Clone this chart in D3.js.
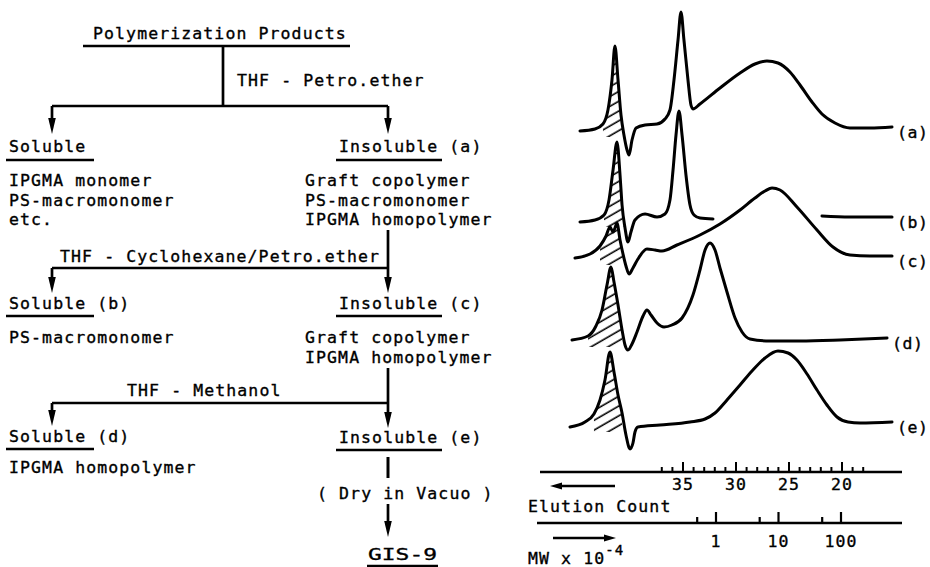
<!DOCTYPE html>
<html>
<head>
<meta charset="utf-8">
<script src="https://cdn.jsdelivr.net/npm/d3@7"></script>
<style>
  body { margin: 0; background: #fff; }
  text { font-family: "DejaVu Sans Mono", "Liberation Mono", monospace; font-size: 16.5px; fill: #000; stroke: #000; stroke-width: 0.35px; }
</style>
</head>
<body>
<svg id="fig" width="930" height="567"></svg>
<script>
// ---- GPC data: elution count vs. detector response ----
const traceNames = ["(a)", "(b)", "(c)", "(d)", "(e)"];

const countA  = [44.72, 43.30, 42.55, 42.08, 41.70, 41.42, 41.13, 40.85, 40.57, 40.28, 40.09, 39.81, 39.43, 38.58, 37.45, 36.70, 36.23, 35.85, 35.47, 35.19, 34.91, 34.53, 34.25, 34.06, 33.40, 31.51, 29.62, 28.21, 27.08, 26.04, 24.91, 23.96, 22.83, 21.89, 20.66, 19.25, 17.36, 15.28];
const signalA = [-1, 1, 6, 20, 50, 84, 50, 15, -5, -20, -25, -10, 2, 5, 6, 11, 20, 50, 90, 118, 90, 50, 25, 21, 26, 42, 57, 66, 69, 67, 58, 45, 28, 16, 7, 2, 2, 3];

const countB  = [44.72, 43.30, 42.45, 41.98, 41.60, 41.23, 40.94, 40.75, 40.47, 40.19, 39.91, 39.53, 38.58, 37.45, 36.70, 36.23, 35.94, 35.66, 35.38, 35.09, 34.72, 34.34, 33.96, 33.40, 32.17, 27.00, 21.89, 19.25, 15.28];
const signalB = [-2, 0, 5, 20, 50, 78, 45, 15, -8, -22, -12, 0, 6, 3, 6, 20, 50, 85, 109, 85, 45, 15, 5, 2, 1, null, 4, 3, 3];

const countC  = [45.19, 43.77, 42.83, 42.26, 41.89, 41.60, 41.42, 41.23, 40.94, 40.66, 40.38, 40.09, 39.72, 39.25, 38.40, 37.64, 36.98, 35.57, 33.40, 31.51, 29.62, 28.21, 27.26, 26.60, 25.85, 24.25, 22.36, 20.85, 19.25, 17.36, 15.28];
const signalC = [0, 4, 12, 22, 31, 26, 30, 35, 18, 4, -8, -16, -10, -1, 9, 8, 7, 13, 23, 34, 48, 60, 67, 70, 68, 51, 28, 11, 3, 2, 2];

const countD  = [45.47, 43.96, 43.21, 42.64, 42.17, 41.79, 41.51, 41.13, 40.75, 40.47, 40.19, 39.81, 39.34, 38.77, 38.40, 38.02, 37.45, 36.79, 36.04, 35.09, 34.06, 33.40, 32.92, 32.45, 31.98, 31.51, 30.85, 30.09, 29.43, 28.68, 26.79, 23.96, 20.19, 15.75];
const signalD = [0, 4, 14, 30, 55, 73, 58, 35, 10, -5, -10, -4, 8, 24, 30, 25, 17, 13, 15, 22, 45, 70, 90, 97, 90, 72, 48, 22, 8, 1, -1, -1, 0, 2];

const countE  = [45.66, 44.25, 43.40, 42.83, 42.36, 41.89, 41.51, 41.13, 40.75, 40.38, 40.00, 39.72, 39.53, 39.25, 37.17, 34.34, 32.92, 31.98, 30.85, 29.62, 28.49, 27.26, 26.04, 25.09, 24.25, 23.30, 22.36, 21.42, 20.47, 19.43, 18.30, 15.28];
const signalE = [-2, 3, 11, 25, 45, 73, 53, 30, 12, -10, -24, -18, -7, -2, 0, 3, 6, 12, 25, 40, 54, 67, 74, 72, 65, 51, 35, 20, 8, 3, 2, 3];

// Hatched (solvent / low-MW) region of each trace, in elution counts
const hatchRanges = [[42.83, 40.47], [42.83, 40.47], [43.30, 40.60], [43.96, 40.55], [43.40, 40.55]];

// Axis ticks
const elutionTicks  = d3.range(37, 17, -1);
const elutionLabels = [35, 30, 25, 20];
const mwMajor = [1, 10, 100];
const mwMinor = [0.5, 5, 50];

const allCounts  = [countA, countB, countC, countD, countE];
const allSignals = [signalA, signalB, signalC, signalD, signalE];

// ---- drawing ----
const svg = d3.select("#fig");
const defs = svg.append("defs");
defs.append("pattern")
  .attr("id", "hatch")
  .attr("patternUnits", "userSpaceOnUse")
  .attr("width", 10).attr("height", 8.5)
  .attr("patternTransform", "rotate(-30)")
  .append("line")
  .attr("x1", 0).attr("x2", 10).attr("y1", 4).attr("y2", 4)
  .attr("stroke", "#000").attr("stroke-width", 1.6);

const ink = "#000";
const LW = 2.7;
const LS = 1.1;   // letter spacing of the typed labels
const ROW = 19.5; // line pitch of the listed components

// ---------- flow scheme (left) ----------
const flow = svg.append("g");
function label(x, y, s, opts = {}) {
  return flow.append("text").attr("x", x).attr("y", y)
    .attr("letter-spacing", opts.ls != null ? opts.ls : LS)
    .attr("text-anchor", opts.anchor || "start")
    .text(s);
}
function seg(x1, y1, x2, y2, w = LW) {
  flow.append("line").attr("x1", x1).attr("y1", y1).attr("x2", x2).attr("y2", y2)
    .attr("stroke", ink).attr("stroke-width", w).attr("stroke-linecap", "butt");
}
function arrowDown(x, y1, tip) {
  seg(x, y1, x, tip - 10);
  flow.append("path")
    .attr("d", `M${x - 3.8},${tip - 16} L${x + 3.8},${tip - 16} L${x},${tip} Z`)
    .attr("fill", ink);
}

label(93, 39, "Polymerization Products");
seg(83, 46, 350, 46, 2.5);
seg(223, 46, 223, 106);
label(237, 86, "THF - Petro.ether");
seg(52, 106, 388, 106);
arrowDown(52, 106, 134);
arrowDown(388, 106, 134);

label(9, 152, "Soluble");
seg(6, 160, 94, 160, 2.5);
label(339, 152, "Insoluble (a)");
seg(336, 160, 442, 160, 2.5);
["IPGMA monomer", "PS-macromonomer", "etc."].forEach((s, i) => label(9, 186 + i * ROW, s));
["Graft copolymer", "PS-macromonomer", "IPGMA homopolymer"].forEach((s, i) => label(305, 186 + i * ROW, s));

seg(388, 230, 388, 268);
arrowDown(388, 268, 293);
label(60, 262, "THF - Cyclohexane/Petro.ether");
seg(52, 268, 388, 268);
arrowDown(52, 268, 293);

label(9, 309, "Soluble (b)");
seg(6, 316, 94, 316, 2.5);
label(339, 309, "Insoluble (c)");
seg(336, 316, 442, 316, 2.5);
label(9, 343, "PS-macromonomer");
["Graft copolymer", "IPGMA homopolymer"].forEach((s, i) => label(305, 343 + i * ROW, s));

arrowDown(388, 368, 428);
label(127, 396, "THF - Methanol");
seg(52, 403, 388, 403);
arrowDown(52, 403, 426);

label(9, 442, "Soluble (d)");
seg(6, 449, 94, 449, 2.5);
label(339, 443, "Insoluble (e)");
seg(336, 450, 442, 450, 2.5);
label(9, 473, "IPGMA homopolymer");

seg(388, 457, 388, 478, 3);
label(317, 499, "( Dry in Vacuo )");
arrowDown(388, 504, 537);
flow.append("text").attr("x", 368).attr("y", 560)
  .attr("font-size", 26).attr("textLength", 69).attr("lengthAdjust", "spacingAndGlyphs")
  .text("GIS-9");
seg(367, 566, 438, 566, 2.5);

// ---------- chromatograms (right) ----------
const x = d3.scaleLinear().domain([35, 20]).range([683, 842]);
const y = d3.scaleLinear().domain([0, 100]).range([0, -100]);
const baselines = [130, 220, 258, 340, 425];

const line = d3.line()
  .defined(d => d.s != null)
  .x(d => x(d.c)).y(d => y(d.s))
  .curve(d3.curveMonotoneX);

const hatchArea = d3.area()
  .x(d => x(d.c))
  .y0(y(-7))
  .y1(d => y(Math.max(d.s, -7)))
  .curve(d3.curveMonotoneX);

const chart = svg.append("g");
traceNames.forEach((name, i) => {
  const pts = allCounts[i].map((c, j) => ({ c, s: allSignals[i][j] }));
  const g = chart.append("g").attr("transform", `translate(0,${baselines[i]})`);
  const [h0, h1] = hatchRanges[i];
  const hpts = pts.filter(p => p.s != null && p.c <= h0 && p.c >= h1);
  g.append("path").attr("d", hatchArea(hpts)).attr("fill", "url(#hatch)");
  g.append("path").attr("d", line(pts))
    .attr("fill", "none").attr("stroke", ink).attr("stroke-width", 3)
    .attr("stroke-linejoin", "round").attr("stroke-linecap", "round");
  const last = pts[pts.length - 1];
  g.append("text").attr("x", x(last.c) + 5).attr("y", y(last.s) + 11)
    .attr("letter-spacing", 0.6).text(name);
});

// Elution count axis
const axY = 472;
chart.append("line").attr("x1", 540).attr("x2", 902).attr("y1", axY).attr("y2", axY)
  .attr("stroke", ink).attr("stroke-width", 2.5);
chart.selectAll(".et").data(elutionTicks).enter().append("line")
  .attr("x1", d => x(d)).attr("x2", d => x(d))
  .attr("y1", axY).attr("y2", d => axY - (elutionLabels.includes(d) ? 10 : 5))
  .attr("stroke", ink).attr("stroke-width", 2);
chart.selectAll(".el").data(elutionLabels).enter().append("text")
  .attr("x", d => x(d)).attr("y", 490).attr("text-anchor", "middle").attr("letter-spacing", LS)
  .text(d => d);
chart.append("line").attr("x1", 558).attr("x2", 615).attr("y1", 486).attr("y2", 486)
  .attr("stroke", ink).attr("stroke-width", 2.4);
chart.append("path").attr("d", "M550,486 L562,482.5 L562,489.5 Z").attr("fill", ink);
chart.append("text").attr("x", 528).attr("y", 512).attr("letter-spacing", LS).text("Elution Count");

// Molecular weight axis
const mw = d3.scaleLog().domain([1, 100]).range([716, 841]);
const mwY = 523;
chart.append("line").attr("x1", 537).attr("x2", 902).attr("y1", mwY).attr("y2", mwY)
  .attr("stroke", ink).attr("stroke-width", 2.5);
chart.selectAll(".mt").data(mwMajor.concat(mwMinor)).enter().append("line")
  .attr("x1", d => mw(d)).attr("x2", d => mw(d))
  .attr("y1", mwY).attr("y2", d => mwY - (mwMajor.includes(d) ? 11 : 6))
  .attr("stroke", ink).attr("stroke-width", 2.2);
chart.selectAll(".ml").data(mwMajor).enter().append("text")
  .attr("x", d => mw(d)).attr("y", 547).attr("text-anchor", "middle").attr("letter-spacing", LS)
  .text(d => d);
chart.append("line").attr("x1", 553).attr("x2", 608).attr("y1", 538).attr("y2", 538)
  .attr("stroke", ink).attr("stroke-width", 2.4);
chart.append("path").attr("d", "M616,538 L604,534.5 L604,541.5 Z").attr("fill", ink);
const mwt = chart.append("text").attr("x", 528).attr("y", 564).attr("letter-spacing", LS);
mwt.append("tspan").text("MW x 10");
mwt.append("tspan").attr("dy", -9).attr("font-size", 14).text("-4");
</script>
</body>
</html>
